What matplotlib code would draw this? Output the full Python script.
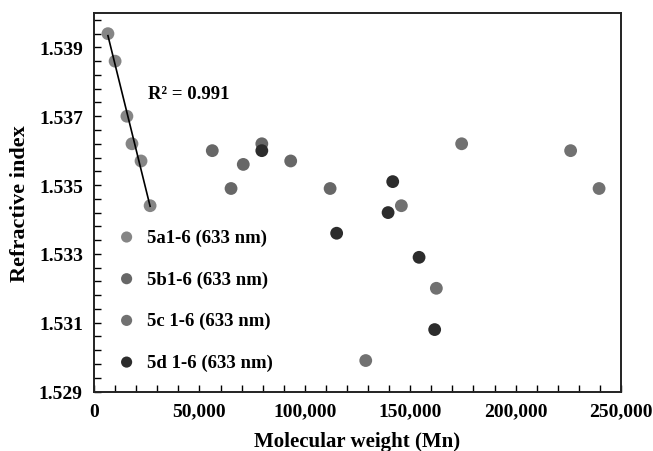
import numpy as np
import matplotlib
matplotlib.use("Agg")
from matplotlib import pyplot as plt
from matplotlib.ticker import MultipleLocator, FuncFormatter

# ---- data ----
mw_5a = [6600, 10000, 15600, 18000, 22300, 26600]
n_5a = [1.5394, 1.5386, 1.5370, 1.5362, 1.5357, 1.5344]

mw_5b = [56100, 65000, 70800, 79600, 93300, 112000]
n_5b = [1.5360, 1.5349, 1.5356, 1.5362, 1.5357, 1.5349]

mw_5c = [128900, 145800, 162400, 174400, 226100, 239600]
n_5c = [1.5299, 1.5344, 1.5320, 1.5362, 1.5360, 1.5349]

mw_5d = [79600, 115100, 139500, 141700, 154200, 161600]
n_5d = [1.5360, 1.5336, 1.5342, 1.5351, 1.5329, 1.5308]

labels = ["5a1-6 (633 nm)", "5b1-6 (633 nm)", "5c 1-6 (633 nm)", "5d 1-6 (633 nm)"]
colors = ["#858585", "#676767", "#717171", "#2c2c2c"]

plt.rcParams['font.family'] = ['Liberation Serif', 'DejaVu Serif']
plt.rcParams['font.weight'] = 'bold'

fig = plt.figure(figsize=(6.53, 4.52), dpi=100)
ax = fig.add_axes([0.144, 0.1316, 0.807, 0.8374])

for x, y, c, lab in zip([mw_5a, mw_5b, mw_5c, mw_5d], [n_5a, n_5b, n_5c, n_5d], colors, labels):
    ax.scatter(x, y, s=85, color=c, edgecolors='none', label=lab, zorder=3)

# linear fit of series 5a
p = np.polyfit(mw_5a, n_5a, 1)
xf = np.array([min(mw_5a), max(mw_5a)])
ax.plot(xf, np.polyval(p, xf), color='black', lw=1.2, zorder=4)
ax.text(25500, 1.53766, "R² = 0.991", fontsize=13.5, fontweight='bold', ha='left', va='center')

ax.set_xlim(0, 250000)
ax.set_ylim(1.529, 1.540)
ax.xaxis.set_major_locator(MultipleLocator(50000))
ax.xaxis.set_minor_locator(MultipleLocator(10000))
ax.yaxis.set_major_locator(MultipleLocator(0.002, offset=0.001))
ax.yaxis.set_minor_locator(MultipleLocator(0.0004, offset=0.0002))
ax.xaxis.set_major_formatter(FuncFormatter(lambda v, pos: "{:,.0f}".format(v)))
ax.yaxis.set_major_formatter(FuncFormatter(lambda v, pos: "{:.3f}".format(v)))
ax.tick_params(which='both', direction='in', labelsize=14, width=1.0)
ax.tick_params(which='major', length=5, pad=8)
ax.tick_params(which='minor', length=5)
ax.tick_params(axis='y', which='both', right=False)
for lab in ax.get_xticklabels() + ax.get_yticklabels():
    lab.set_fontweight('bold')
for sp in ax.spines.values():
    sp.set_linewidth(1.4)
    sp.set_color('#222222')

ax.set_xlabel("Molecular weight (Mn)", fontsize=15, fontweight='bold')
ax.set_ylabel("Refractive index", fontsize=16, fontweight='bold')
ax.xaxis.set_label_coords(0.5, -0.104)
ax.yaxis.set_label_coords(-0.121, 0.5)

leg = ax.legend(loc='upper left', bbox_to_anchor=(0.012, 0.45), frameon=False,
                fontsize=13.5, labelspacing=1.3, handletextpad=0.1, markerscale=0.87,
                borderaxespad=0)
for t in leg.get_texts():
    t.set_fontweight('bold')

fig.savefig("out.png", dpi=100)
